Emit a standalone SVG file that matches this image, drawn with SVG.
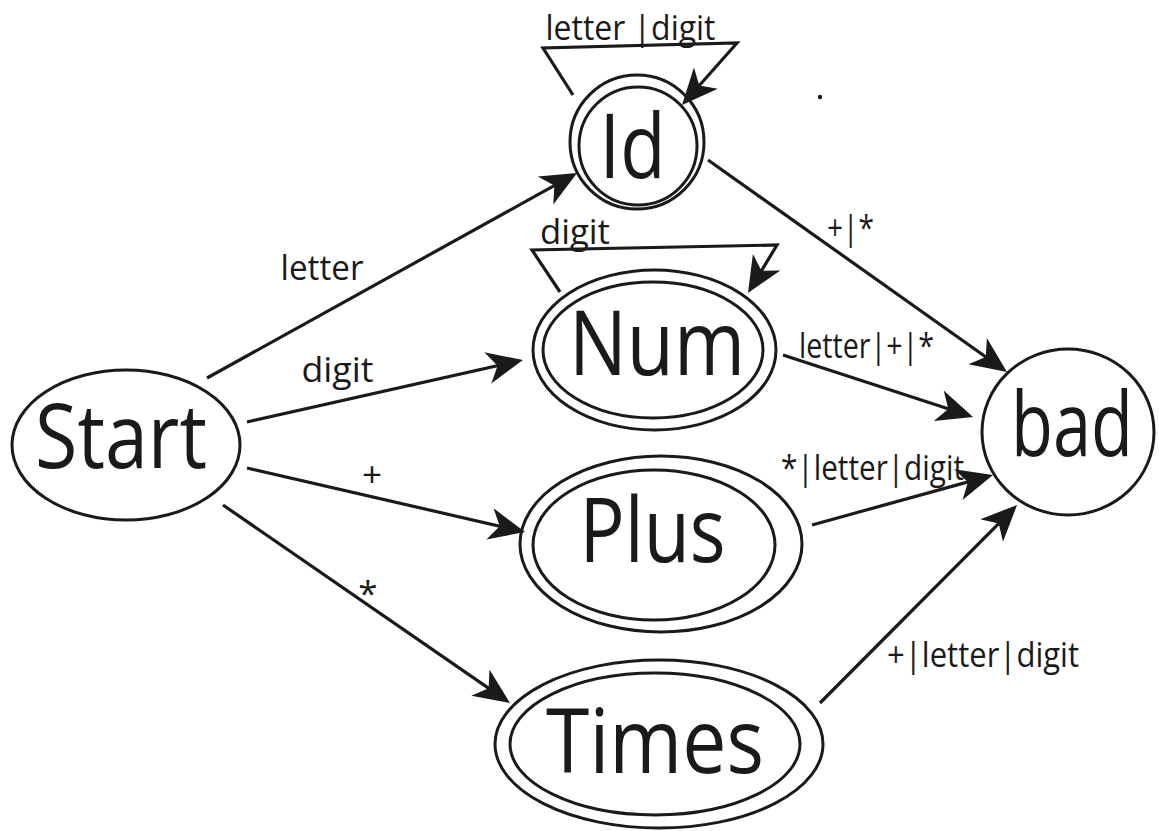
<svg xmlns="http://www.w3.org/2000/svg" width="1159" height="831" viewBox="0 0 1159 831">
<style>
.n{fill:none;stroke:#1a1a1a;stroke-width:3}
.e{fill:none;stroke:#1a1a1a;stroke-width:3.2;stroke-linejoin:miter}
.t{font-family:"Open Sans","Noto Sans",sans-serif;fill:#1a1a1a;text-anchor:middle}
.big{font-size:90px}
.lab{font-size:35px}
</style>
<defs>
<marker id="ah" markerUnits="userSpaceOnUse" markerWidth="44" markerHeight="44" viewBox="-34 -22 44 44" refX="0" refY="0" orient="auto">
<path d="M6,0 L-30,-16 L-20,0 L-30,16 Z" fill="#1a1a1a"/>
</marker>
</defs>
<rect width="1159" height="831" fill="#ffffff"/>
<g id="edges">
<line class="e" x1="207" y1="378" x2="571.8" y2="175.9" marker-end="url(#ah)"/>
<line class="e" x1="247" y1="422" x2="517.1" y2="361.3" marker-end="url(#ah)"/>
<line class="e" x1="247" y1="468" x2="519.2" y2="530.7" marker-end="url(#ah)"/>
<line class="e" x1="223" y1="505" x2="505.1" y2="699.6" marker-end="url(#ah)"/>
<line class="e" x1="708" y1="160" x2="1002.1" y2="368.5" marker-end="url(#ah)"/>
<line class="e" x1="783" y1="355" x2="967.3" y2="415.1" marker-end="url(#ah)"/>
<line class="e" x1="812" y1="525" x2="987.2" y2="476.6" marker-end="url(#ah)"/>
<line class="e" x1="820" y1="703" x2="1012.8" y2="509.3" marker-end="url(#ah)"/>
<polyline class="e" points="573,95 543,48 737,43 686,100.5" marker-end="url(#ah)"/>
<polyline class="e" points="560,292 532,250 777,245 751.1,287.9" marker-end="url(#ah)"/>
<text class="t lab" x="630.5" y="40" textLength="170" lengthAdjust="spacingAndGlyphs">letter |digit</text>
<text class="t lab" x="322" y="280" textLength="83" lengthAdjust="spacingAndGlyphs">letter</text>
<text class="t lab" x="337.5" y="382" textLength="72" lengthAdjust="spacingAndGlyphs">digit</text>
<text class="t lab" x="575" y="244" textLength="70" lengthAdjust="spacingAndGlyphs">digit</text>
<text class="t lab" x="372" y="487">+</text>
<text class="t lab" x="368" y="606">*</text>
<text class="t lab" x="850.5" y="240" textLength="47" lengthAdjust="spacingAndGlyphs">+|*</text>
<text class="t lab" x="866.5" y="358" textLength="135" lengthAdjust="spacingAndGlyphs">letter|+|*</text>
<text class="t lab" x="872.5" y="480" textLength="183" lengthAdjust="spacingAndGlyphs">*|letter|digit</text>
<text class="t lab" x="983" y="667" textLength="192" lengthAdjust="spacingAndGlyphs">+|letter|digit</text>
</g>
<g id="Start">
<ellipse class="n" cx="126" cy="445" rx="114" ry="75"/>
<text class="t big" x="121" y="468" font-size="85" textLength="172" lengthAdjust="spacingAndGlyphs">Start</text>
</g>
<g id="Id">
<circle class="n" cx="637" cy="142" r="67"/>
<circle class="n" cx="638" cy="146" r="59"/>
<text class="t big" x="632.5" y="178" textLength="66" lengthAdjust="spacingAndGlyphs">Id</text>
</g>
<g id="Num">
<ellipse class="n" cx="654.5" cy="350" rx="121.5" ry="80"/>
<ellipse class="n" cx="653" cy="350" rx="110" ry="68"/>
<text class="t big" x="657" y="375" textLength="176" lengthAdjust="spacingAndGlyphs">Num</text>
</g>
<g id="Plus">
<ellipse class="n" cx="661" cy="544" rx="141" ry="88"/>
<ellipse class="n" cx="654" cy="545" rx="121" ry="75"/>
<text class="t big" x="652.5" y="562" font-size="88" textLength="146" lengthAdjust="spacingAndGlyphs">Plus</text>
</g>
<g id="Times">
<ellipse class="n" cx="659" cy="744" rx="164" ry="84"/>
<ellipse class="n" cx="655" cy="744" rx="145" ry="71"/>
<text class="t big" x="655" y="773" textLength="218" lengthAdjust="spacingAndGlyphs">Times</text>
</g>
<g id="bad">
<ellipse class="n" cx="1068" cy="432" rx="86" ry="83"/>
<text class="t big" x="1072" y="456" font-size="80" textLength="122" lengthAdjust="spacingAndGlyphs">bad</text>
</g>
<circle cx="820" cy="97" r="2.2" fill="#1a1a1a"/>
</svg>
